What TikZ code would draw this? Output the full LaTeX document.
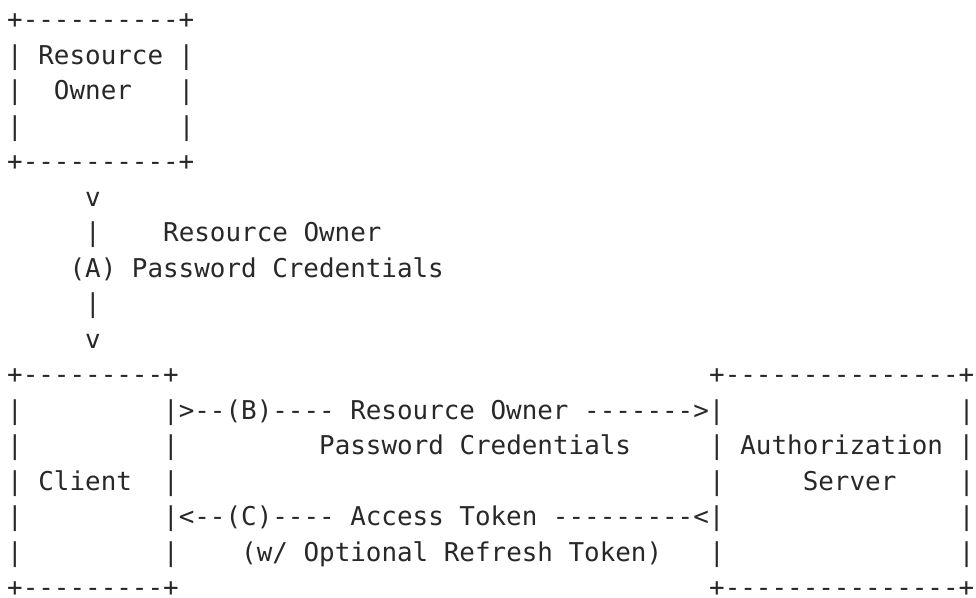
\documentclass[tikz,border=0pt]{standalone}
\usepackage{fontspec}
\setmonofont{DejaVu Sans Mono}
\definecolor{ink}{RGB}{40,40,40}
\begin{document}
\begin{tikzpicture}
\useasboundingbox (0,0) rectangle (976pt,-597pt);
\tikzset{
  asc/.style={anchor=base west, inner sep=0pt, outer sep=0pt, text=ink,
    font=\ttfamily\fontsize{25.9pt}{35.5pt}\selectfont},
  flat/.style={text depth=0pt}
}
\begin{scope}[shift={(7.2pt,-28.5pt)}, x=15.6pt, y=-35.5pt]
% Resource Owner box
\node[asc] (ro1) at (0,0) {+----------+};
\node[asc] (ro2) at (0,1) {| Resource |};
\node[asc] (ro3) at (0,2) {|~~Owner~~~|};
\node[asc] (ro4l) at (0,3) {|};
\node[asc] (ro4r) at (11,3) {|};
\node[asc] (ro5) at (0,4) {+----------+};
% flow (A)
\node[asc] (a1) at (5,5) {v};
\node[asc] (a2) at (5,6) {|};
\node[asc] (a2t) at (10,6) {Resource Owner};
\node[asc] (a3) at (4,7) {(A) Password Credentials};
\node[asc] (a4) at (5,8) {|};
\node[asc] (a5) at (5,9) {v};
% Client and Authorization Server boxes
\node[asc] (c1) at (0,10) {+---------+};
\node[asc] (s1) at (45,10) {+---------------+};
\node[asc] (c2l) at (0,11) {|};
\node[asc] (b1) at (10,11) {|>--(B)---- Resource Owner ------->|};
\node[asc] (s2r) at (61,11) {|};
\node[asc] (c3l) at (0,12) {|};
\node[asc] (c3r) at (10,12) {|};
\node[asc] (b2) at (20,12) {Password Credentials};
\node[asc] (s3) at (45,12) {| Authorization |};
\node[asc] (c4) at (0,13) {| Client~~|};
\node[asc] (s4l) at (45,13) {|};
\node[asc] (s4t) at (51,13) {Server};
\node[asc] (s4r) at (61,13) {|};
\node[asc] (c5l) at (0,14) {|};
\node[asc] (cc1) at (10,14) {|<--(C)---- Access Token ---------<|};
\node[asc] (s5r) at (61,14) {|};
\node[asc] (c6l) at (0,15) {|};
\node[asc] (c6r) at (10,15) {|};
\node[asc] (cc2) at (15,15) {(w/ Optional Refresh Token)};
\node[asc] (s6l) at (45,15) {|};
\node[asc] (s6r) at (61,15) {|};
\node[asc, flat] (c7) at (0,16) {+---------+};
\node[asc, flat] (s7) at (45,16) {+---------------+};
\end{scope}
\end{tikzpicture}
\end{document}
